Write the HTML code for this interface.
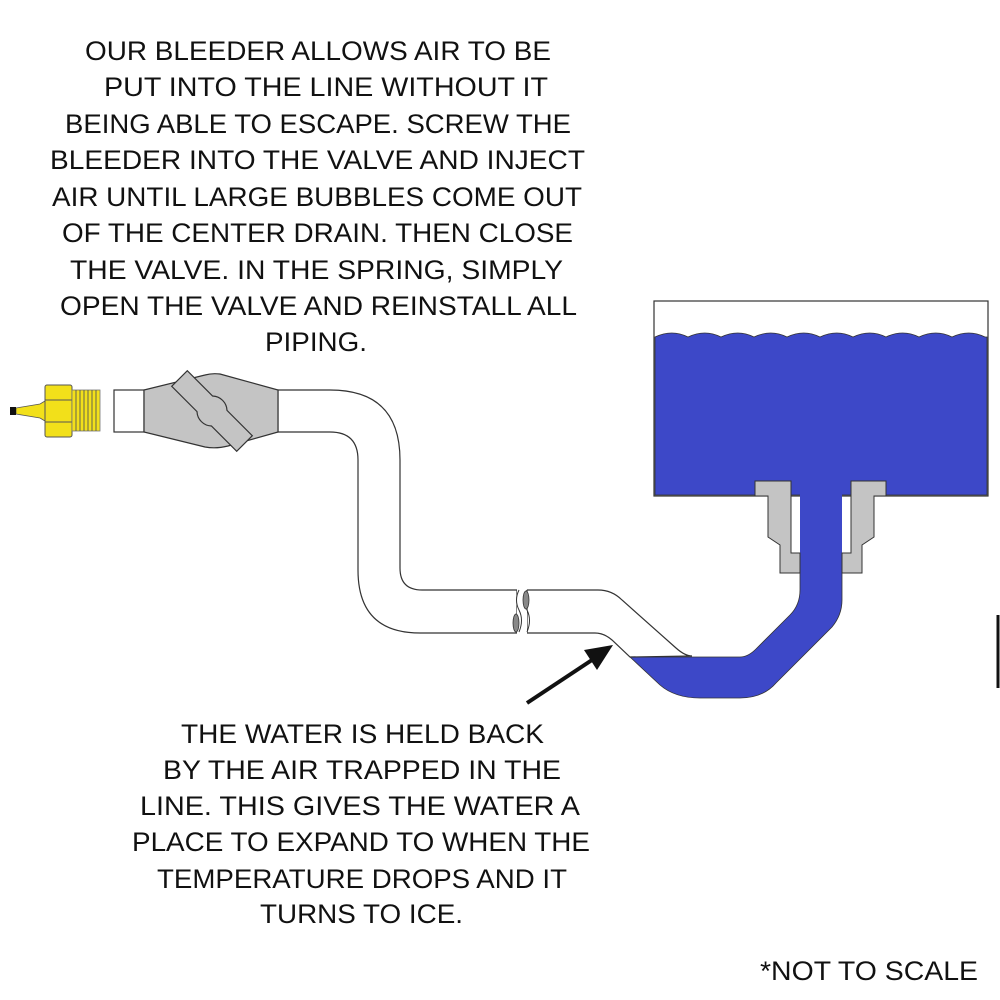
<!DOCTYPE html>
<html><head><meta charset="utf-8"><style>
html,body{margin:0;padding:0;background:#fff;}
svg{display:block;}
text{font-family:"Liberation Sans",sans-serif;font-size:27px;fill:#111;}
</style></head><body>
<svg width="1000" height="1000" viewBox="0 0 1000 1000" xmlns="http://www.w3.org/2000/svg">
<g>
<text x="85" y="60" textLength="466" lengthAdjust="spacingAndGlyphs">OUR BLEEDER ALLOWS AIR TO BE</text>
<text x="104" y="96" textLength="444" lengthAdjust="spacingAndGlyphs">PUT INTO THE LINE WITHOUT IT</text>
<text x="65" y="133" textLength="506" lengthAdjust="spacingAndGlyphs">BEING ABLE TO ESCAPE. SCREW THE</text>
<text x="50" y="169" textLength="535" lengthAdjust="spacingAndGlyphs">BLEEDER INTO THE VALVE AND INJECT</text>
<text x="52" y="206" textLength="530" lengthAdjust="spacingAndGlyphs">AIR UNTIL LARGE BUBBLES COME OUT</text>
<text x="62" y="242" textLength="511" lengthAdjust="spacingAndGlyphs">OF THE CENTER DRAIN. THEN CLOSE</text>
<text x="70" y="279" textLength="493" lengthAdjust="spacingAndGlyphs">THE VALVE. IN THE SPRING, SIMPLY</text>
<text x="60" y="315" textLength="517" lengthAdjust="spacingAndGlyphs">OPEN THE VALVE AND REINSTALL ALL</text>
<text x="265" y="351" textLength="102" lengthAdjust="spacingAndGlyphs">PIPING.</text>

<text x="181" y="743" textLength="363" lengthAdjust="spacingAndGlyphs">THE WATER IS HELD BACK</text>
<text x="163" y="779" textLength="398" lengthAdjust="spacingAndGlyphs">BY THE AIR TRAPPED IN THE</text>
<text x="140" y="815" textLength="440" lengthAdjust="spacingAndGlyphs">LINE. THIS GIVES THE WATER A</text>
<text x="132" y="851" textLength="458" lengthAdjust="spacingAndGlyphs">PLACE TO EXPAND TO WHEN THE</text>
<text x="157" y="888" textLength="410" lengthAdjust="spacingAndGlyphs">TEMPERATURE DROPS AND IT</text>
<text x="260" y="923" textLength="203" lengthAdjust="spacingAndGlyphs">TURNS TO ICE.</text>
<text x="760" y="980" textLength="218" lengthAdjust="spacingAndGlyphs">*NOT TO SCALE</text>
</g>

<!-- tank -->
<rect x="654" y="301" width="334" height="195" fill="#fff" stroke="#333" stroke-width="1.2"/>
<path d="M655,337 q17,-8 33,0 q17,-8 33,0 q17,-8 33,0 q17,-8 33,0 q17,-8 33,0 q17,-8 33,0 q17,-8 33,0 q17,-8 33,0 q17,-8 33,0 q17,-8 33,0 L987,337 L987,495 L655,495 Z" fill="#3d48c8" stroke="#333" stroke-width="0.8"/>

<!-- blue lower channel -->
<path d="M800,481 L842,481 L842,600 Q842,615 832,627 L776,683 Q763,698 740,698 L700,698 Q675,698 660,685 L630,657 L740,657 Q748,657 756,649 L790,615 Q800,605 800,590 Z" fill="#3d48c8" stroke="none"/>
<path d="M842,573 L842,600 Q842,615 832,627 L776,683 Q763,698 740,698 L700,698 Q675,698 660,685 L630,657 L740,657 Q748,657 756,649 L790,615 Q800,605 800,590 L800,573" fill="none" stroke="#333" stroke-width="0.8"/>

<!-- fittings -->
<path d="M755,481 L791,481 L791,553 L800,553 L800,573 L780,573 L780,545 L768,537 L768,496 L755,496 Z" fill="#c4c4c4" stroke="#333" stroke-width="1"/>
<path d="M886,481 L851,481 L851,553 L842,553 L842,573 L862,573 L862,545 L874,537 L874,496 L886,496 Z" fill="#c4c4c4" stroke="#333" stroke-width="1"/>

<!-- pipe -->
<path d="M278,390 L330,390 Q400,390 400,460 L400,568 Q400,590 422,590 L517,590 L517,633 L420,633 Q358,633 358,570 L358,460 Q358,432 330,432 L278,432 Z" fill="#fff" stroke="#333" stroke-width="1.2"/>
<path d="M527,590 L598,590 Q612,590 622,600 L676,648 Q685,656 692,656 L630,657 L612,640 Q604,633 595,633 L527,633 Z" fill="#fff" stroke="#333" stroke-width="1.2"/>
<rect x="517" y="589" width="10" height="46" fill="#fff"/>
<path d="M519,590 q-5,10 0,20 q5,10 0,22" fill="none" stroke="#333" stroke-width="1"/>
<path d="M527,590 q-5,10 0,20 q5,10 0,22" fill="none" stroke="#333" stroke-width="1"/>
<ellipse cx="526" cy="600" rx="3" ry="9" fill="#888" stroke="#333" stroke-width="0.8"/>
<ellipse cx="516" cy="623" rx="3" ry="9" fill="#888" stroke="#333" stroke-width="0.8"/>

<!-- stub -->
<rect x="114" y="390" width="30" height="42" fill="#fff" stroke="#333" stroke-width="1.2"/>
<!-- valve body -->
<path d="M144,390 L205,375 Q212,373 220,374 L278,390 L278,432 L228,446 Q216,449 205,447 L144,432 Z" fill="#c4c4c4" stroke="#333" stroke-width="1.2"/>
<path d="M171.7,386.3 L187.3,370.7 L212.6,396 A15 15 0 0 1 227,410.4 L252.3,435.7 L236.7,451.3 L211.4,426 A15 15 0 0 1 197,411.6 Z" fill="#c4c4c4" stroke="#333" stroke-width="1.2"/>

<!-- bleeder -->
<path d="M16,408 L40,404 L45,401 L45,421 L40,418 L16,414 Z" fill="#f2e01a" stroke="#555" stroke-width="0.8"/>
<rect x="10" y="407" width="6" height="8" fill="#111"/>
<rect x="45" y="385" width="27" height="52" rx="2" fill="#f2e01a" stroke="#555" stroke-width="1"/>
<line x1="45" y1="400" x2="72" y2="400" stroke="#555"/>
<line x1="45" y1="422" x2="72" y2="422" stroke="#555"/>
<rect x="72" y="390" width="28" height="41" fill="#f2e01a" stroke="#777" stroke-width="0.8"/>
<g stroke="#555" stroke-width="0.9">
<line x1="76" y1="390" x2="76" y2="431"/><line x1="80" y1="390" x2="80" y2="431"/><line x1="84" y1="390" x2="84" y2="431"/><line x1="88" y1="390" x2="88" y2="431"/><line x1="92" y1="390" x2="92" y2="431"/><line x1="96" y1="390" x2="96" y2="431"/>
</g>

<!-- arrow -->
<line x1="527" y1="703" x2="595" y2="658" stroke="#111" stroke-width="4"/>
<polygon points="613,645 584,650 597,670" fill="#111"/>

<!-- right edge mark -->
<line x1="998" y1="615" x2="998" y2="688" stroke="#111" stroke-width="3"/>
</svg>
</body></html>
